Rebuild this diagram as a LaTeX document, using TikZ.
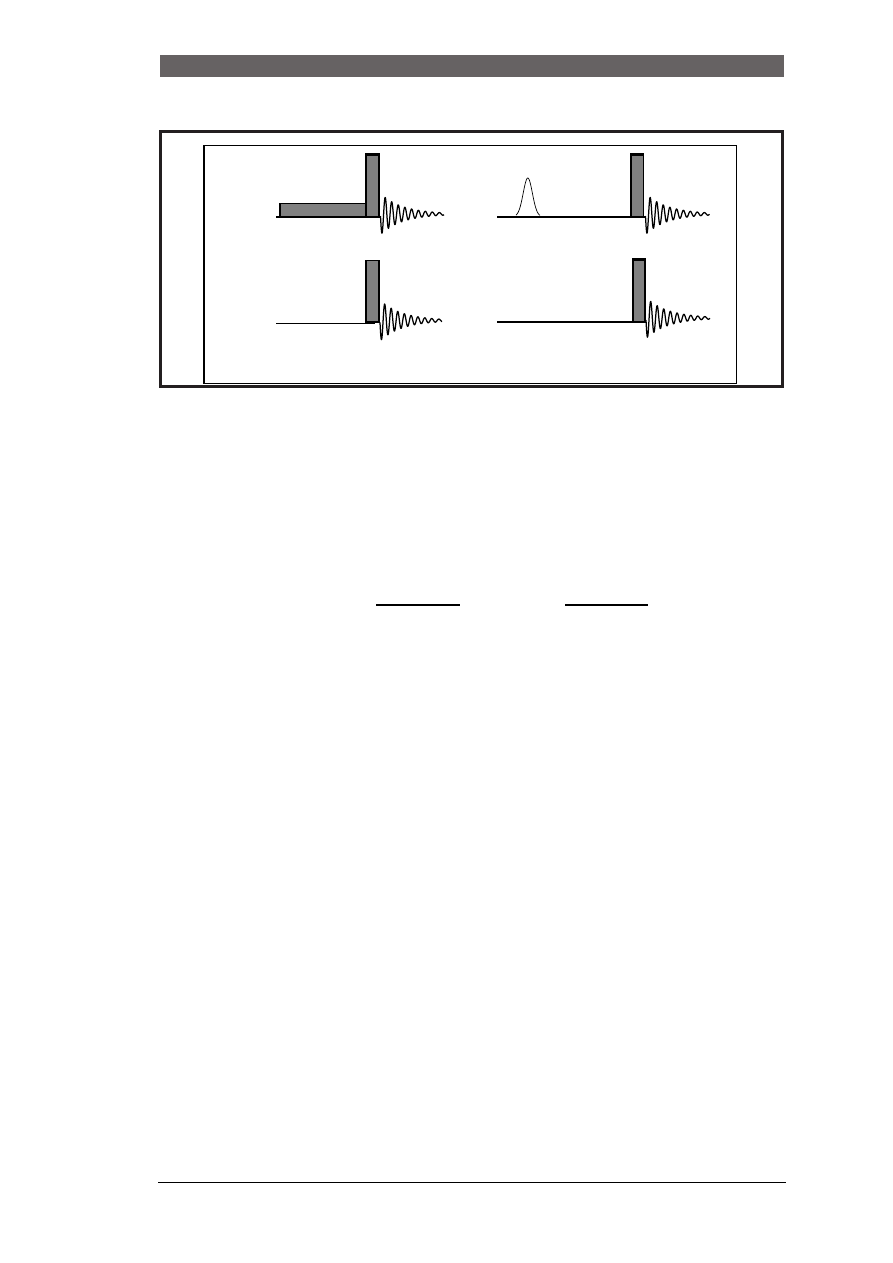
\documentclass[tikz,border=0pt]{standalone}
\definecolor{headgrey}{HTML}{666263}
\definecolor{framek}{HTML}{231F20}
\definecolor{pulsegrey}{HTML}{808080}
\tikzset{
  outerframe/.style={draw=framek,line width=3pt},
  innerframe/.style={draw=black,line width=1.1pt},
  pulsebox/.style={draw=black,fill=pulsegrey,line width=1.4pt},
  topbar/.style={draw=black,line width=2.6pt},
  baseline/.style={draw=black,line width=2pt},
  thinbase/.style={draw=black,line width=1pt},
  fidline/.style={draw=black,line width=1.25pt,line join=round},
  gaussline/.style={draw=black,line width=.7pt},
  rulel/.style={draw=black,line width=1.1pt}
}
% #1 start x, #2 centre y, #3 amplitude down, #4 length
\newcommand{\fidcurve}[4]{%
  \draw[fidline] plot[samples=260,domain=0:#4,variable=\t]
    ({#1+\t},{#2+(#3)*exp(-\t/22)*cos((\t-1.5)/(6.4+\t*0.006)*360)});
}
\begin{document}
\begin{tikzpicture}[x=1pt,y=-1pt]
\useasboundingbox (0,0) rectangle (893,1263);
\fill[white] (0,0) rectangle (893,1263);
\fill[headgrey] (160,55) rectangle (784,77);
\draw[outerframe] (160.5,131.5) rectangle (782.5,386.5);
\draw[innerframe] (204,145.5) rectangle (736.2,383.5);

% panel 1
\draw[pulsebox] (280,203.5) rectangle (366,216.5);
\draw[pulsebox] (366,154) rectangle (379,216.5);
\draw[topbar] (365.3,154.5) -- (379.7,154.5);
\draw[baseline] (276,216.7) -- (380,216.7);
\fidcurve{380.5}{214}{20.5}{63.5}

% panel 2
\draw[baseline] (497,216.7) -- (644.5,216.7);
\draw[pulsebox,line width=1.8pt] (631,154) rectangle (643.5,216.5);
\draw[topbar] (630.3,154.5) -- (644.4,154.5);
\draw[gaussline] plot[samples=50,domain=516:540,variable=\u]
  ({\u},{216.5-38.5*exp(-((\u-527.8)*(\u-527.8))/(2*4.6*4.6))});
\fidcurve{645.5}{214}{20.5}{64}

% panel 3
\draw[pulsebox] (366,260.7) rectangle (379,322);
\draw[thinbase] (276,323.3) -- (372,323.3);
\draw[baseline] (366,322.5) -- (375,322.5);
\fidcurve{380}{320.5}{20.5}{62}

% panel 4
\draw[pulsebox] (633,259.5) rectangle (645,321.5);
\draw[topbar] (632.3,259.2) -- (645.7,259.2);
\draw[baseline] (497,321.7) -- (645.5,321.7);
\fidcurve{646}{318}{20.5}{64}

% rules
\draw[rulel] (376,605) -- (460,605);
\draw[rulel] (565,605) -- (648,605);
\draw[rulel] (158,1182.4) -- (785.5,1182.4);
\end{tikzpicture}
\end{document}
